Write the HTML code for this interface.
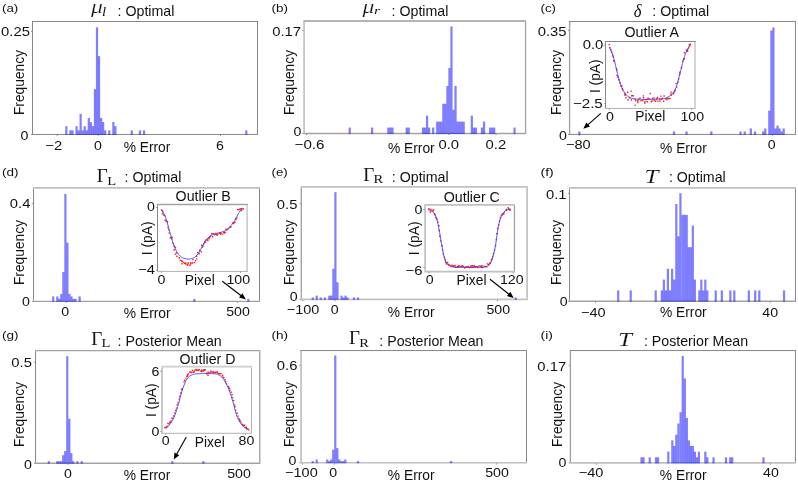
<!DOCTYPE html>
<html><head><meta charset="utf-8"><title>Figure</title>
<style>html,body{margin:0;padding:0;background:#fff;width:798px;height:482px;overflow:hidden}svg{will-change:transform}svg text{font-kerning:normal}</style></head>
<body>
<svg width="798" height="482" viewBox="0 0 798 482" style="display:block;position:absolute;left:0;top:0">
<rect width="798" height="482" fill="#fff"/>
<path d="M32 21.5H258" stroke="#868686" stroke-width="1.0" fill="none"/>
<path d="M32 134.45H258" stroke="#868686" stroke-width="1.0" fill="none"/>
<path d="M32.5 22V133.95" stroke="#868686" stroke-width="1.0" fill="none"/>
<path d="M257.5 22V133.95" stroke="#868686" stroke-width="1.0" fill="none"/>
<g fill="#0000ff" fill-opacity="0.5">
<rect x="65.22" y="126.21" width="2.2" height="8.69"/>
<rect x="69.31" y="130.33" width="2.2" height="4.57"/>
<rect x="71.36" y="130.33" width="2.2" height="4.57"/>
<rect x="75.45" y="126.21" width="2.2" height="8.69"/>
<rect x="77.49" y="130.33" width="2.2" height="4.57"/>
<rect x="79.54" y="113.85" width="2.2" height="21.05"/>
<rect x="81.58" y="130.33" width="2.2" height="4.57"/>
<rect x="83.63" y="126.21" width="2.2" height="8.69"/>
<rect x="85.67" y="130.33" width="2.2" height="4.57"/>
<rect x="87.72" y="117.97" width="2.2" height="16.93"/>
<rect x="89.77" y="122.09" width="2.2" height="12.81"/>
<rect x="91.81" y="126.21" width="2.2" height="8.69"/>
<rect x="93.85" y="89.13" width="2.2" height="45.77"/>
<rect x="95.9" y="27.33" width="2.2" height="107.57"/>
<rect x="97.94" y="56.17" width="2.2" height="78.73"/>
<rect x="99.99" y="117.97" width="2.2" height="16.93"/>
<rect x="102.03" y="122.09" width="2.2" height="12.81"/>
<rect x="104.08" y="130.33" width="2.2" height="4.57"/>
<rect x="108.17" y="130.33" width="2.2" height="4.57"/>
<rect x="112.26" y="122.09" width="2.2" height="12.81"/>
<rect x="114.3" y="126.21" width="2.2" height="8.69"/>
<rect x="130.67" y="130.33" width="2.2" height="4.57"/>
<rect x="138.85" y="130.33" width="2.2" height="4.57"/>
<rect x="142.94" y="130.33" width="2.2" height="4.57"/>
<rect x="245.19" y="130.33" width="2.2" height="4.57"/>
</g>
<path d="M57.3 134.75v1.05M98 134.75v1.05M220.5 134.75v1.05" stroke="#707070" stroke-width="0.9" fill="none"/>
<path d="M32.2 31.4h-1.05M32.2 134.45h-1.05" stroke="#707070" stroke-width="0.9" fill="none"/>
<text transform="translate(53.7 149.7) scale(1.1614 1)" font-family='"Liberation Sans", sans-serif' font-size="12.7" text-anchor="middle" fill="#111">−2</text>
<text transform="translate(98 149.7) scale(1.1169 1)" font-family='"Liberation Sans", sans-serif' font-size="12.7" text-anchor="middle" fill="#111">0</text>
<text transform="translate(220 149.7) scale(1.1169 1)" font-family='"Liberation Sans", sans-serif' font-size="12.7" text-anchor="middle" fill="#111">6</text>
<text transform="translate(29.9 35.9) scale(1.1671 1)" font-family='"Liberation Sans", sans-serif' font-size="12.7" text-anchor="end" fill="#111">0.25</text>
<text transform="translate(28.4 140.3) scale(1.1169 1)" font-family='"Liberation Sans", sans-serif' font-size="12.7" text-anchor="end" fill="#111">0</text>
<text transform="translate(147 151.7)" font-family='"Liberation Sans", sans-serif' font-size="13.8" text-anchor="middle" fill="#111">% Error</text>
<text transform="translate(24.2 82.5) rotate(-90)" font-family='"Liberation Sans", sans-serif' font-size="13.8" text-anchor="middle" fill="#111">Frequency</text>
<text transform="translate(2 12.3) scale(1.1303 1)" font-family='"Liberation Sans", sans-serif' font-size="11.8" text-anchor="start" fill="#111">(a)</text>
<path d="M303.25 21H526.22" stroke="#b4b4b4" stroke-width="1.9" fill="none"/>
<path d="M303.25 133.5H526.22" stroke="#a2a2a2" stroke-width="1.35" fill="none"/>
<path d="M304.1 21.95V132.82" stroke="#c0c0c0" stroke-width="1.7" fill="none"/>
<path d="M525.55 21.95V132.82" stroke="#a2a2a2" stroke-width="1.35" fill="none"/>
<g fill="#0000ff" fill-opacity="0.5">
<rect x="348.62" y="127.55" width="2.2" height="6.4"/>
<rect x="371.01" y="127.55" width="2.2" height="6.4"/>
<rect x="387.29" y="127.55" width="2.2" height="6.4"/>
<rect x="389.32" y="127.55" width="2.2" height="6.4"/>
<rect x="391.36" y="127.55" width="2.2" height="6.4"/>
<rect x="405.61" y="127.55" width="2.2" height="6.4"/>
<rect x="407.64" y="127.55" width="2.2" height="6.4"/>
<rect x="421.88" y="127.55" width="2.2" height="6.4"/>
<rect x="423.92" y="127.55" width="2.2" height="6.4"/>
<rect x="425.95" y="115.65" width="2.2" height="18.3"/>
<rect x="427.99" y="127.55" width="2.2" height="6.4"/>
<rect x="432.06" y="127.55" width="2.2" height="6.4"/>
<rect x="436.13" y="121.6" width="2.2" height="12.35"/>
<rect x="438.17" y="121.6" width="2.2" height="12.35"/>
<rect x="440.2" y="121.6" width="2.2" height="12.35"/>
<rect x="442.24" y="103.75" width="2.2" height="30.2"/>
<rect x="444.27" y="103.75" width="2.2" height="30.2"/>
<rect x="446.31" y="85.9" width="2.2" height="48.05"/>
<rect x="448.34" y="68.05" width="2.2" height="65.9"/>
<rect x="450.38" y="26.4" width="2.2" height="107.55"/>
<rect x="452.41" y="109.7" width="2.2" height="24.25"/>
<rect x="454.44" y="85.9" width="2.2" height="48.05"/>
<rect x="456.48" y="121.6" width="2.2" height="12.35"/>
<rect x="458.52" y="121.6" width="2.2" height="12.35"/>
<rect x="460.55" y="121.6" width="2.2" height="12.35"/>
<rect x="462.58" y="121.6" width="2.2" height="12.35"/>
<rect x="470.73" y="115.65" width="2.2" height="18.3"/>
<rect x="472.76" y="127.55" width="2.2" height="6.4"/>
<rect x="474.8" y="127.55" width="2.2" height="6.4"/>
<rect x="480.9" y="127.55" width="2.2" height="6.4"/>
<rect x="482.94" y="121.6" width="2.2" height="12.35"/>
<rect x="489.04" y="127.55" width="2.2" height="6.4"/>
<rect x="491.07" y="127.55" width="2.2" height="6.4"/>
<rect x="493.11" y="127.55" width="2.2" height="6.4"/>
<rect x="513.46" y="127.55" width="2.2" height="6.4"/>
</g>
<path d="M306.5 133.98v1.05M448.8 133.98v1.05M496 133.98v1.05" stroke="#707070" stroke-width="0.9" fill="none"/>
<path d="M303.45 30.5h-1.05M303.45 133.5h-1.05" stroke="#707070" stroke-width="0.9" fill="none"/>
<text transform="translate(309.5 148.7) scale(1.1940 1)" font-family='"Liberation Sans", sans-serif' font-size="12.7" text-anchor="middle" fill="#111">−0.6</text>
<text transform="translate(448.75 148.7) scale(1.1671 1)" font-family='"Liberation Sans", sans-serif' font-size="12.7" text-anchor="middle" fill="#111">0.0</text>
<text transform="translate(495.9 148.7) scale(1.1671 1)" font-family='"Liberation Sans", sans-serif' font-size="12.7" text-anchor="middle" fill="#111">0.2</text>
<text transform="translate(301 35.8) scale(1.1671 1)" font-family='"Liberation Sans", sans-serif' font-size="12.7" text-anchor="end" fill="#111">0.17</text>
<text transform="translate(301.5 136.3) scale(1.1169 1)" font-family='"Liberation Sans", sans-serif' font-size="12.7" text-anchor="end" fill="#111">0</text>
<text transform="translate(411.3 152.8)" font-family='"Liberation Sans", sans-serif' font-size="13.8" text-anchor="middle" fill="#111">% Error</text>
<text transform="translate(293.6 82.5) rotate(-90)" font-family='"Liberation Sans", sans-serif' font-size="13.8" text-anchor="middle" fill="#111">Frequency</text>
<text transform="translate(271.5 12.3) scale(1.1481 1)" font-family='"Liberation Sans", sans-serif' font-size="11.8" text-anchor="start" fill="#111">(b)</text>
<path d="M568.93 21.5H795.95" stroke="#868686" stroke-width="1.0" fill="none"/>
<path d="M568.93 134.4H795.95" stroke="#868686" stroke-width="1.0" fill="none"/>
<path d="M569.6 22V133.9" stroke="#a2a2a2" stroke-width="1.35" fill="none"/>
<path d="M795.45 22V133.9" stroke="#868686" stroke-width="1.0" fill="none"/>
<g fill="#0000ff" fill-opacity="0.5">
<rect x="578.22" y="131.43" width="2.2" height="3.42"/>
<rect x="672.92" y="131.43" width="2.2" height="3.42"/>
<rect x="685.42" y="131.43" width="2.2" height="3.42"/>
<rect x="710.22" y="131.43" width="2.2" height="3.42"/>
<rect x="739.42" y="131.43" width="2.2" height="3.42"/>
<rect x="743.62" y="131.43" width="2.2" height="3.42"/>
<rect x="749.72" y="128.46" width="2.2" height="6.39"/>
<rect x="753.92" y="131.43" width="2.2" height="3.42"/>
<rect x="762.12" y="131.43" width="2.2" height="3.42"/>
<rect x="764.17" y="128.46" width="2.2" height="6.39"/>
<rect x="768.22" y="110.64" width="2.2" height="24.21"/>
<rect x="770.27" y="30.45" width="2.2" height="104.4"/>
<rect x="772.32" y="27.48" width="2.2" height="107.37"/>
<rect x="774.38" y="128.46" width="2.2" height="6.39"/>
<rect x="776.42" y="125.49" width="2.2" height="9.36"/>
<rect x="778.47" y="128.46" width="2.2" height="6.39"/>
<rect x="780.52" y="131.43" width="2.2" height="3.42"/>
<rect x="782.57" y="128.46" width="2.2" height="6.39"/>
</g>
<path d="M579.3 134.7v1.05M772.5 134.7v1.05" stroke="#707070" stroke-width="0.9" fill="none"/>
<path d="M569.13 30.3h-1.05M569.13 134.4h-1.05" stroke="#707070" stroke-width="0.9" fill="none"/>
<text transform="translate(578.3 148.5) scale(1.1468 1)" font-family='"Liberation Sans", sans-serif' font-size="12.7" text-anchor="middle" fill="#111">−80</text>
<text transform="translate(771.7 148.5) scale(1.1169 1)" font-family='"Liberation Sans", sans-serif' font-size="12.7" text-anchor="middle" fill="#111">0</text>
<text transform="translate(566.5 35.5) scale(1.1671 1)" font-family='"Liberation Sans", sans-serif' font-size="12.7" text-anchor="end" fill="#111">0.35</text>
<text transform="translate(567 139.7) scale(1.1169 1)" font-family='"Liberation Sans", sans-serif' font-size="12.7" text-anchor="end" fill="#111">0</text>
<text transform="translate(683.4 152.5)" font-family='"Liberation Sans", sans-serif' font-size="13.8" text-anchor="middle" fill="#111">% Error</text>
<text transform="translate(560.8 82.5) rotate(-90)" font-family='"Liberation Sans", sans-serif' font-size="13.8" text-anchor="middle" fill="#111">Frequency</text>
<text transform="translate(540.5 11.7) scale(1.1310 1)" font-family='"Liberation Sans", sans-serif' font-size="11.8" text-anchor="start" fill="#111">(c)</text>
<path d="M33.05 187.9H260" stroke="#c0c0c0" stroke-width="1.7" fill="none"/>
<path d="M33.05 301.3H260" stroke="#a2a2a2" stroke-width="1.35" fill="none"/>
<path d="M33.55 188.75V300.62" stroke="#868686" stroke-width="1.0" fill="none"/>
<path d="M259.5 188.75V300.62" stroke="#868686" stroke-width="1.0" fill="none"/>
<g fill="#0000ff" fill-opacity="0.5">
<rect x="52.12" y="296.42" width="2.2" height="5.33"/>
<rect x="56.19" y="296.42" width="2.2" height="5.33"/>
<rect x="58.22" y="298.86" width="2.2" height="2.89"/>
<rect x="60.24" y="293.98" width="2.2" height="7.77"/>
<rect x="62.27" y="272.02" width="2.2" height="29.73"/>
<rect x="64.3" y="193.94" width="2.2" height="107.81"/>
<rect x="66.33" y="242.74" width="2.2" height="59.01"/>
<rect x="68.36" y="293.98" width="2.2" height="7.77"/>
<rect x="70.39" y="296.42" width="2.2" height="5.33"/>
<rect x="72.42" y="298.86" width="2.2" height="2.89"/>
<rect x="74.45" y="298.86" width="2.2" height="2.89"/>
<rect x="78.52" y="296.42" width="2.2" height="5.33"/>
<rect x="193.23" y="298.86" width="2.2" height="2.89"/>
<rect x="247.23" y="298.86" width="2.2" height="2.89"/>
</g>
<path d="M66.2 301.78v1.05M237.5 301.78v1.05" stroke="#707070" stroke-width="0.9" fill="none"/>
<path d="M33.25 203.7h-1.05M33.25 301.3h-1.05" stroke="#707070" stroke-width="0.9" fill="none"/>
<text transform="translate(65.3 316) scale(1.1169 1)" font-family='"Liberation Sans", sans-serif' font-size="12.7" text-anchor="middle" fill="#111">0</text>
<text transform="translate(238 316) scale(1.1169 1)" font-family='"Liberation Sans", sans-serif' font-size="12.7" text-anchor="middle" fill="#111">500</text>
<text transform="translate(30.4 208.3) scale(1.1671 1)" font-family='"Liberation Sans", sans-serif' font-size="12.7" text-anchor="end" fill="#111">0.4</text>
<text transform="translate(29.9 306.3) scale(1.1169 1)" font-family='"Liberation Sans", sans-serif' font-size="12.7" text-anchor="end" fill="#111">0</text>
<text transform="translate(147.2 317.5)" font-family='"Liberation Sans", sans-serif' font-size="13.8" text-anchor="middle" fill="#111">% Error</text>
<text transform="translate(24.2 252.5) rotate(-90)" font-family='"Liberation Sans", sans-serif' font-size="13.8" text-anchor="middle" fill="#111">Frequency</text>
<text transform="translate(2 176.4) scale(1.1481 1)" font-family='"Liberation Sans", sans-serif' font-size="11.8" text-anchor="start" fill="#111">(d)</text>
<path d="M300.62 186.9H527.95" stroke="#c0c0c0" stroke-width="1.7" fill="none"/>
<path d="M300.62 299.45H527.95" stroke="#c0c0c0" stroke-width="1.7" fill="none"/>
<path d="M301.3 187.75V298.6" stroke="#a2a2a2" stroke-width="1.35" fill="none"/>
<path d="M527.1 187.75V298.6" stroke="#c0c0c0" stroke-width="1.7" fill="none"/>
<g fill="#0000ff" fill-opacity="0.5">
<rect x="311.62" y="297.53" width="2.2" height="2.37"/>
<rect x="315.62" y="295.62" width="2.2" height="4.28"/>
<rect x="319.62" y="297.53" width="2.2" height="2.37"/>
<rect x="323.73" y="297.53" width="2.2" height="2.37"/>
<rect x="328.23" y="295.62" width="2.2" height="4.28"/>
<rect x="330.23" y="295.62" width="2.2" height="4.28"/>
<rect x="332.28" y="268.79" width="2.2" height="31.11"/>
<rect x="334.32" y="192.15" width="2.2" height="107.75"/>
<rect x="336.38" y="282.21" width="2.2" height="17.69"/>
<rect x="340.43" y="295.62" width="2.2" height="4.28"/>
<rect x="342.43" y="297.53" width="2.2" height="2.37"/>
<rect x="344.43" y="295.62" width="2.2" height="4.28"/>
<rect x="346.43" y="297.53" width="2.2" height="2.37"/>
<rect x="352.93" y="297.53" width="2.2" height="2.37"/>
<rect x="356.93" y="297.53" width="2.2" height="2.37"/>
<rect x="514.62" y="297.53" width="2.2" height="2.37"/>
</g>
<path d="M302.7 300.1v1.05M335 300.1v1.05M497.5 300.1v1.05" stroke="#707070" stroke-width="0.9" fill="none"/>
<path d="M300.82 203.7h-1.05M300.82 299.45h-1.05" stroke="#707070" stroke-width="0.9" fill="none"/>
<text transform="translate(303.1 314.3) scale(1.1394 1)" font-family='"Liberation Sans", sans-serif' font-size="12.7" text-anchor="middle" fill="#111">−100</text>
<text transform="translate(334.8 314.3) scale(1.1169 1)" font-family='"Liberation Sans", sans-serif' font-size="12.7" text-anchor="middle" fill="#111">0</text>
<text transform="translate(498.3 314.3) scale(1.1169 1)" font-family='"Liberation Sans", sans-serif' font-size="12.7" text-anchor="middle" fill="#111">500</text>
<text transform="translate(297.4 208.7) scale(1.1671 1)" font-family='"Liberation Sans", sans-serif' font-size="12.7" text-anchor="end" fill="#111">0.5</text>
<text transform="translate(297.7 301.3) scale(1.1169 1)" font-family='"Liberation Sans", sans-serif' font-size="12.7" text-anchor="end" fill="#111">0</text>
<text transform="translate(411.2 317)" font-family='"Liberation Sans", sans-serif' font-size="13.8" text-anchor="middle" fill="#111">% Error</text>
<text transform="translate(293.6 252.5) rotate(-90)" font-family='"Liberation Sans", sans-serif' font-size="13.8" text-anchor="middle" fill="#111">Frequency</text>
<text transform="translate(271.5 176.4) scale(1.1319 1)" font-family='"Liberation Sans", sans-serif' font-size="11.8" text-anchor="start" fill="#111">(e)</text>
<path d="M569.05 187.9H795.95" stroke="#c0c0c0" stroke-width="1.7" fill="none"/>
<path d="M569.05 301.2H795.95" stroke="#a2a2a2" stroke-width="1.35" fill="none"/>
<path d="M569.55 188.75V300.52" stroke="#868686" stroke-width="1.0" fill="none"/>
<path d="M795.45 188.75V300.52" stroke="#868686" stroke-width="1.0" fill="none"/>
<g fill="#0000ff" fill-opacity="0.5">
<rect x="617.12" y="290.4" width="2.2" height="11.25"/>
<rect x="629.62" y="290.4" width="2.2" height="11.25"/>
<rect x="654.62" y="290.4" width="2.2" height="11.25"/>
<rect x="660.72" y="290.4" width="2.2" height="11.25"/>
<rect x="662.77" y="279.6" width="2.2" height="22.05"/>
<rect x="664.82" y="290.4" width="2.2" height="11.25"/>
<rect x="666.82" y="268.8" width="2.2" height="32.85"/>
<rect x="668.88" y="290.4" width="2.2" height="11.25"/>
<rect x="671.02" y="268.8" width="2.2" height="32.85"/>
<rect x="673.12" y="279.6" width="2.2" height="22.05"/>
<rect x="675.22" y="204" width="2.2" height="97.65"/>
<rect x="677.27" y="236.4" width="2.2" height="65.25"/>
<rect x="679.32" y="193.2" width="2.2" height="108.45"/>
<rect x="681.52" y="214.8" width="2.2" height="86.85"/>
<rect x="683.57" y="214.8" width="2.2" height="86.85"/>
<rect x="685.62" y="214.8" width="2.2" height="86.85"/>
<rect x="687.62" y="247.2" width="2.2" height="54.45"/>
<rect x="689.67" y="247.2" width="2.2" height="54.45"/>
<rect x="691.72" y="225.6" width="2.2" height="76.05"/>
<rect x="693.77" y="279.6" width="2.2" height="22.05"/>
<rect x="698.22" y="290.4" width="2.2" height="11.25"/>
<rect x="700.22" y="279.6" width="2.2" height="22.05"/>
<rect x="702.22" y="290.4" width="2.2" height="11.25"/>
<rect x="704.22" y="279.6" width="2.2" height="22.05"/>
<rect x="706.22" y="290.4" width="2.2" height="11.25"/>
<rect x="714.62" y="290.4" width="2.2" height="11.25"/>
<rect x="720.72" y="290.4" width="2.2" height="11.25"/>
<rect x="729.22" y="290.4" width="2.2" height="11.25"/>
<rect x="733.22" y="290.4" width="2.2" height="11.25"/>
<rect x="747.72" y="290.4" width="2.2" height="11.25"/>
<rect x="754.12" y="290.4" width="2.2" height="11.25"/>
<rect x="758.22" y="290.4" width="2.2" height="11.25"/>
<rect x="782.92" y="290.4" width="2.2" height="11.25"/>
</g>
<path d="M595.5 301.68v1.05M770.3 301.68v1.05" stroke="#707070" stroke-width="0.9" fill="none"/>
<path d="M569.25 193.3h-1.05M569.25 301.2h-1.05" stroke="#707070" stroke-width="0.9" fill="none"/>
<text transform="translate(593.3 316.5) scale(1.1468 1)" font-family='"Liberation Sans", sans-serif' font-size="12.7" text-anchor="middle" fill="#111">−40</text>
<text transform="translate(770.2 316.5) scale(1.1169 1)" font-family='"Liberation Sans", sans-serif' font-size="12.7" text-anchor="middle" fill="#111">40</text>
<text transform="translate(566.5 198.7) scale(1.1671 1)" font-family='"Liberation Sans", sans-serif' font-size="12.7" text-anchor="end" fill="#111">0.1</text>
<text transform="translate(567.7 305.8) scale(1.1169 1)" font-family='"Liberation Sans", sans-serif' font-size="12.7" text-anchor="end" fill="#111">0</text>
<text transform="translate(683.3 317)" font-family='"Liberation Sans", sans-serif' font-size="13.8" text-anchor="middle" fill="#111">% Error</text>
<text transform="translate(560.8 252.5) rotate(-90)" font-family='"Liberation Sans", sans-serif' font-size="13.8" text-anchor="middle" fill="#111">Frequency</text>
<text transform="translate(540.5 176.4) scale(1.1890 1)" font-family='"Liberation Sans", sans-serif' font-size="11.8" text-anchor="start" fill="#111">(f)</text>
<path d="M35.05 350.6H260.43" stroke="#a2a2a2" stroke-width="1.35" fill="none"/>
<path d="M35.05 463.25H260.43" stroke="#a2a2a2" stroke-width="1.35" fill="none"/>
<path d="M35.55 351.28V462.57" stroke="#868686" stroke-width="1.0" fill="none"/>
<path d="M259.75 351.28V462.57" stroke="#a2a2a2" stroke-width="1.35" fill="none"/>
<g fill="#0000ff" fill-opacity="0.5">
<rect x="47.72" y="461.23" width="2.2" height="2.47"/>
<rect x="56.12" y="461.23" width="2.2" height="2.47"/>
<rect x="58.12" y="461.23" width="2.2" height="2.47"/>
<rect x="60.12" y="461.23" width="2.2" height="2.47"/>
<rect x="62.12" y="455.17" width="2.2" height="8.53"/>
<rect x="64.12" y="451.13" width="2.2" height="12.57"/>
<rect x="66.17" y="356.19" width="2.2" height="107.51"/>
<rect x="68.22" y="418.81" width="2.2" height="44.89"/>
<rect x="70.22" y="453.15" width="2.2" height="10.55"/>
<rect x="72.22" y="461.23" width="2.2" height="2.47"/>
<rect x="76.22" y="461.23" width="2.2" height="2.47"/>
<rect x="80.62" y="461.23" width="2.2" height="2.47"/>
<rect x="171.23" y="461.23" width="2.2" height="2.47"/>
<rect x="202.23" y="461.23" width="2.2" height="2.47"/>
</g>
<path d="M68 463.73v1.05M238 463.73v1.05" stroke="#707070" stroke-width="0.9" fill="none"/>
<path d="M35.25 362.3h-1.05M35.25 463.25h-1.05" stroke="#707070" stroke-width="0.9" fill="none"/>
<text transform="translate(68 477.8) scale(1.1169 1)" font-family='"Liberation Sans", sans-serif' font-size="12.7" text-anchor="middle" fill="#111">0</text>
<text transform="translate(239 477.8) scale(1.1169 1)" font-family='"Liberation Sans", sans-serif' font-size="12.7" text-anchor="middle" fill="#111">500</text>
<text transform="translate(31.9 367.3) scale(1.1671 1)" font-family='"Liberation Sans", sans-serif' font-size="12.7" text-anchor="end" fill="#111">0.5</text>
<text transform="translate(32 469) scale(1.1169 1)" font-family='"Liberation Sans", sans-serif' font-size="12.7" text-anchor="end" fill="#111">0</text>
<text transform="translate(147 480)" font-family='"Liberation Sans", sans-serif' font-size="13.8" text-anchor="middle" fill="#111">% Error</text>
<text transform="translate(24.2 414.5) rotate(-90)" font-family='"Liberation Sans", sans-serif' font-size="13.8" text-anchor="middle" fill="#111">Frequency</text>
<text transform="translate(2 339.2) scale(1.1481 1)" font-family='"Liberation Sans", sans-serif' font-size="11.8" text-anchor="start" fill="#111">(g)</text>
<path d="M300.2 350.55H527" stroke="#868686" stroke-width="1.0" fill="none"/>
<path d="M300.2 462.75H527" stroke="#c0c0c0" stroke-width="1.7" fill="none"/>
<path d="M301.05 351.05V461.9" stroke="#c0c0c0" stroke-width="1.7" fill="none"/>
<path d="M526.5 351.05V461.9" stroke="#868686" stroke-width="1.0" fill="none"/>
<g fill="#0000ff" fill-opacity="0.5">
<rect x="311.62" y="461.12" width="2.2" height="2.08"/>
<rect x="315.62" y="459.5" width="2.2" height="3.7"/>
<rect x="326.12" y="459.5" width="2.2" height="3.7"/>
<rect x="328.12" y="461.12" width="2.2" height="2.08"/>
<rect x="330.12" y="459.5" width="2.2" height="3.7"/>
<rect x="332.12" y="449.75" width="2.2" height="13.45"/>
<rect x="334.18" y="355.5" width="2.2" height="107.7"/>
<rect x="336.23" y="448.12" width="2.2" height="15.07"/>
<rect x="338.23" y="459.5" width="2.2" height="3.7"/>
<rect x="340.23" y="461.12" width="2.2" height="2.08"/>
<rect x="342.23" y="461.12" width="2.2" height="2.08"/>
<rect x="344.23" y="459.5" width="2.2" height="3.7"/>
<rect x="356.93" y="461.12" width="2.2" height="2.08"/>
<rect x="449.93" y="461.12" width="2.2" height="2.08"/>
</g>
<path d="M302.5 463.4v1.05M334.7 463.4v1.05M496.7 463.4v1.05" stroke="#707070" stroke-width="0.9" fill="none"/>
<path d="M300.4 365.3h-1.05M300.4 462.75h-1.05" stroke="#707070" stroke-width="0.9" fill="none"/>
<text transform="translate(301.4 477.3) scale(1.1394 1)" font-family='"Liberation Sans", sans-serif' font-size="12.7" text-anchor="middle" fill="#111">−100</text>
<text transform="translate(333.2 477.3) scale(1.1169 1)" font-family='"Liberation Sans", sans-serif' font-size="12.7" text-anchor="middle" fill="#111">0</text>
<text transform="translate(497 477.3) scale(1.1169 1)" font-family='"Liberation Sans", sans-serif' font-size="12.7" text-anchor="middle" fill="#111">500</text>
<text transform="translate(297.4 370.3) scale(1.1671 1)" font-family='"Liberation Sans", sans-serif' font-size="12.7" text-anchor="end" fill="#111">0.6</text>
<text transform="translate(296.5 465.3) scale(1.1169 1)" font-family='"Liberation Sans", sans-serif' font-size="12.7" text-anchor="end" fill="#111">0</text>
<text transform="translate(411.2 479.5)" font-family='"Liberation Sans", sans-serif' font-size="13.8" text-anchor="middle" fill="#111">% Error</text>
<text transform="translate(293.6 414.5) rotate(-90)" font-family='"Liberation Sans", sans-serif' font-size="13.8" text-anchor="middle" fill="#111">Frequency</text>
<text transform="translate(271.5 339.2) scale(1.1473 1)" font-family='"Liberation Sans", sans-serif' font-size="11.8" text-anchor="start" fill="#111">(h)</text>
<path d="M569.73 350.55H795.95" stroke="#868686" stroke-width="1.0" fill="none"/>
<path d="M569.73 462.9H795.95" stroke="#c0c0c0" stroke-width="1.7" fill="none"/>
<path d="M570.4 351.05V462.05" stroke="#a2a2a2" stroke-width="1.35" fill="none"/>
<path d="M795.45 351.05V462.05" stroke="#868686" stroke-width="1.0" fill="none"/>
<g fill="#0000ff" fill-opacity="0.5">
<rect x="640.42" y="457.27" width="2.2" height="6.08"/>
<rect x="642.42" y="457.27" width="2.2" height="6.08"/>
<rect x="648.62" y="457.27" width="2.2" height="6.08"/>
<rect x="654.92" y="457.27" width="2.2" height="6.08"/>
<rect x="656.92" y="457.27" width="2.2" height="6.08"/>
<rect x="667.22" y="451.64" width="2.2" height="11.71"/>
<rect x="671.22" y="440.38" width="2.2" height="22.97"/>
<rect x="673.22" y="446.01" width="2.2" height="17.34"/>
<rect x="675.22" y="434.75" width="2.2" height="28.6"/>
<rect x="677.32" y="423.49" width="2.2" height="39.86"/>
<rect x="679.52" y="412.23" width="2.2" height="51.12"/>
<rect x="681.62" y="355.93" width="2.2" height="107.42"/>
<rect x="683.72" y="378.45" width="2.2" height="84.9"/>
<rect x="685.77" y="417.86" width="2.2" height="45.49"/>
<rect x="687.82" y="440.38" width="2.2" height="22.97"/>
<rect x="689.82" y="446.01" width="2.2" height="17.34"/>
<rect x="691.82" y="446.01" width="2.2" height="17.34"/>
<rect x="693.82" y="451.64" width="2.2" height="11.71"/>
<rect x="695.82" y="457.27" width="2.2" height="6.08"/>
<rect x="697.82" y="451.64" width="2.2" height="11.71"/>
<rect x="704.22" y="451.64" width="2.2" height="11.71"/>
<rect x="706.22" y="457.27" width="2.2" height="6.08"/>
<rect x="712.42" y="457.27" width="2.2" height="6.08"/>
<rect x="724.92" y="457.27" width="2.2" height="6.08"/>
<rect x="729.12" y="457.27" width="2.2" height="6.08"/>
<rect x="731.12" y="457.27" width="2.2" height="6.08"/>
<rect x="762.42" y="457.27" width="2.2" height="6.08"/>
</g>
<path d="M596.3 463.55v1.05M770.3 463.55v1.05" stroke="#707070" stroke-width="0.9" fill="none"/>
<path d="M569.93 365.3h-1.05M569.93 462.9h-1.05" stroke="#707070" stroke-width="0.9" fill="none"/>
<text transform="translate(591.1 477.3) scale(1.1468 1)" font-family='"Liberation Sans", sans-serif' font-size="12.7" text-anchor="middle" fill="#111">−40</text>
<text transform="translate(771 477.3) scale(1.1169 1)" font-family='"Liberation Sans", sans-serif' font-size="12.7" text-anchor="middle" fill="#111">40</text>
<text transform="translate(566.2 370.7) scale(1.1671 1)" font-family='"Liberation Sans", sans-serif' font-size="12.7" text-anchor="end" fill="#111">0.17</text>
<text transform="translate(566.5 466.7) scale(1.1169 1)" font-family='"Liberation Sans", sans-serif' font-size="12.7" text-anchor="end" fill="#111">0</text>
<text transform="translate(683.2 480)" font-family='"Liberation Sans", sans-serif' font-size="13.8" text-anchor="middle" fill="#111">% Error</text>
<text transform="translate(561.8 414.5) rotate(-90)" font-family='"Liberation Sans", sans-serif' font-size="13.8" text-anchor="middle" fill="#111">Frequency</text>
<text transform="translate(540.5 339.2) scale(1.1813 1)" font-family='"Liberation Sans", sans-serif' font-size="11.8" text-anchor="start" fill="#111">(i)</text>
<text transform="translate(91 13.4) scale(1.3 1)" font-family='"Liberation Serif", serif' font-size="18.2" font-style="italic" stroke="#fff" stroke-width="0.22" text-anchor="start" fill="#111">μ</text>
<text transform="translate(101.9 16) scale(1.3 1)" font-family='"Liberation Serif", serif' font-size="11.5" font-style="italic" text-anchor="start" fill="#111">l</text>
<text transform="translate(117.6 16) scale(1.015 1)" font-family='"Liberation Sans", sans-serif' font-size="14.0" text-anchor="start" fill="#111">: Optimal</text>
<text transform="translate(362.6 13.4) scale(1.3 1)" font-family='"Liberation Serif", serif' font-size="18.2" font-style="italic" stroke="#fff" stroke-width="0.22" text-anchor="start" fill="#111">μ</text>
<text transform="translate(374 14) scale(1.6 1)" font-family='"Liberation Serif", serif' font-size="10.0" font-style="italic" text-anchor="start" fill="#111">r</text>
<text transform="translate(391.6 16) scale(1.015 1)" font-family='"Liberation Sans", sans-serif' font-size="14.0" text-anchor="start" fill="#111">: Optimal</text>
<text transform="translate(633.7 16.8) scale(0.9 1)" font-family='"Liberation Serif", serif' font-size="18.5" font-style="italic" text-anchor="start" fill="#111">δ</text>
<text transform="translate(652.3 16) scale(1.015 1)" font-family='"Liberation Sans", sans-serif' font-size="14.0" text-anchor="start" fill="#111">: Optimal</text>
<text transform="translate(96.7 182) scale(1.06 1)" font-family='"Liberation Serif", serif' font-size="18.0" text-anchor="start" fill="#111">Γ</text>
<text transform="translate(107.2 184.7) scale(1.1 1)" font-family='"Liberation Serif", serif' font-size="13.2" text-anchor="start" fill="#111">L</text>
<text transform="translate(124.6 182.1) scale(1.015 1)" font-family='"Liberation Sans", sans-serif' font-size="14.0" text-anchor="start" fill="#111">: Optimal</text>
<text transform="translate(363.3 180.5) scale(1.06 1)" font-family='"Liberation Serif", serif' font-size="18.0" text-anchor="start" fill="#111">Γ</text>
<text transform="translate(373.6 183.3) scale(1.1 1)" font-family='"Liberation Serif", serif' font-size="13.2" text-anchor="start" fill="#111">R</text>
<text transform="translate(391.8 181.5) scale(1.015 1)" font-family='"Liberation Sans", sans-serif' font-size="14.0" text-anchor="start" fill="#111">: Optimal</text>
<text transform="translate(644.6 183.2) scale(1.27 1)" font-family='"Liberation Serif", serif' font-size="19.8" font-style="italic" stroke="#fff" stroke-width="0.15" text-anchor="start" fill="#111">T</text>
<text transform="translate(668.9 182.1) scale(1.015 1)" font-family='"Liberation Sans", sans-serif' font-size="14.0" text-anchor="start" fill="#111">: Optimal</text>
<text transform="translate(91.3 344.5) scale(1.06 1)" font-family='"Liberation Serif", serif' font-size="18.0" text-anchor="start" fill="#111">Γ</text>
<text transform="translate(101.6 347.3) scale(1.1 1)" font-family='"Liberation Serif", serif' font-size="13.2" text-anchor="start" fill="#111">L</text>
<text transform="translate(117.6 345.9) scale(1.015 1)" font-family='"Liberation Sans", sans-serif' font-size="14.0" text-anchor="start" fill="#111">: Posterior Mean</text>
<text transform="translate(348.9 344.3) scale(1.06 1)" font-family='"Liberation Serif", serif' font-size="18.0" text-anchor="start" fill="#111">Γ</text>
<text transform="translate(359.2 347) scale(1.1 1)" font-family='"Liberation Serif", serif' font-size="13.2" text-anchor="start" fill="#111">R</text>
<text transform="translate(379.3 345.9) scale(1.015 1)" font-family='"Liberation Sans", sans-serif' font-size="14.0" text-anchor="start" fill="#111">: Posterior Mean</text>
<text transform="translate(618.1 346.3) scale(1.27 1)" font-family='"Liberation Serif", serif' font-size="19.8" font-style="italic" stroke="#fff" stroke-width="0.15" text-anchor="start" fill="#111">T</text>
<text transform="translate(643.9 345.9) scale(1.015 1)" font-family='"Liberation Sans", sans-serif' font-size="14.0" text-anchor="start" fill="#111">: Posterior Mean</text>
<rect x="605.55" y="41.5" width="89.45" height="66.95" fill="#fff"/>
<path d="M605.05 41.5H695.85" stroke="#868686" stroke-width="1.0" fill="none"/>
<path d="M605.05 108.45H695.85" stroke="#adadad" stroke-width="0.95" fill="none"/>
<path d="M605.55 42V107.98" stroke="#868686" stroke-width="1.0" fill="none"/>
<path d="M695 42V107.98" stroke="#cecece" stroke-width="1.7" fill="none"/>
<path d="M609.5 108.72v1.0M691.5 108.72v1.0" stroke="#707070" stroke-width="0.9" fill="none"/>
<path d="M605.25 45.3h-1.0M605.25 103.5h-1.0" stroke="#707070" stroke-width="0.9" fill="none"/>
<text transform="translate(651.8 37) scale(1.015 1)" font-family='"Liberation Sans", sans-serif' font-size="14.0" text-anchor="middle" fill="#111">Outlier A</text>
<text transform="translate(603.3 49) scale(1.1671 1)" font-family='"Liberation Sans", sans-serif' font-size="12.7" text-anchor="end" fill="#111">0.0</text>
<text transform="translate(602.8 107.6) scale(1.1940 1)" font-family='"Liberation Sans", sans-serif' font-size="12.7" text-anchor="end" fill="#111">−2.5</text>
<text transform="translate(609.9 120.9) scale(1.1169 1)" font-family='"Liberation Sans", sans-serif' font-size="12.7" text-anchor="middle" fill="#111">0</text>
<text transform="translate(692.3 120.9) scale(1.1169 1)" font-family='"Liberation Sans", sans-serif' font-size="12.7" text-anchor="middle" fill="#111">100</text>
<text transform="translate(650.3 121.3)" font-family='"Liberation Sans", sans-serif' font-size="13.8" text-anchor="middle" fill="#111">Pixel</text>
<text transform="translate(600.1 76.2) rotate(-90)" font-family='"Liberation Sans", sans-serif' font-size="13.8" text-anchor="middle" fill="#111">I (pA)</text>
<path d="M608.43 43.95h1.4v1.4h-1.4zM609.28 47.1h1.4v1.4h-1.4zM610.16 49.23h1.4v1.4h-1.4zM610.99 51.49h1.4v1.4h-1.4zM611.98 54.26h1.4v1.4h-1.4zM612.35 55.91h1.4v1.4h-1.4zM612.87 59.98h1.4v1.4h-1.4zM613.63 60.7h1.4v1.4h-1.4zM615.77 68h1.4v1.4h-1.4zM616.08 69.37h1.4v1.4h-1.4zM616.26 74.84h1.4v1.4h-1.4zM616.95 76.44h1.4v1.4h-1.4zM617.96 79.04h1.4v1.4h-1.4zM619.16 82.05h1.4v1.4h-1.4zM619.96 85.16h1.4v1.4h-1.4zM621.06 85.34h1.4v1.4h-1.4zM621.69 87.95h1.4v1.4h-1.4zM622.2 89.13h1.4v1.4h-1.4zM624.03 94.17h1.4v1.4h-1.4zM624.45 92.76h1.4v1.4h-1.4zM624.73 94.25h1.4v1.4h-1.4zM625.21 97.05h1.4v1.4h-1.4zM627.01 91.62h1.4v1.4h-1.4zM627.3 99.26h1.4v1.4h-1.4zM628.92 96.85h1.4v1.4h-1.4zM628.7 97.17h1.4v1.4h-1.4zM630.5 90.47h1.4v1.4h-1.4zM630.61 99.32h1.4v1.4h-1.4zM630.98 95.11h1.4v1.4h-1.4zM632.08 95.09h1.4v1.4h-1.4zM632.65 95.15h1.4v1.4h-1.4zM634.41 104.38h1.4v1.4h-1.4zM634.34 98.67h1.4v1.4h-1.4zM635.08 99.92h1.4v1.4h-1.4zM636.94 100.26h1.4v1.4h-1.4zM637.27 101.85h1.4v1.4h-1.4zM637.74 98.77h1.4v1.4h-1.4zM639.2 97.61h1.4v1.4h-1.4zM639.28 97.45h1.4v1.4h-1.4zM640.32 99.93h1.4v1.4h-1.4zM642.13 99.84h1.4v1.4h-1.4zM642.83 97.05h1.4v1.4h-1.4zM642.71 95.14h1.4v1.4h-1.4zM644.14 102.33h1.4v1.4h-1.4zM644.21 100.99h1.4v1.4h-1.4zM645.25 99.08h1.4v1.4h-1.4zM646.8 98.16h1.4v1.4h-1.4zM646.64 101.11h1.4v1.4h-1.4zM647.49 97.5h1.4v1.4h-1.4zM649.03 98.21h1.4v1.4h-1.4zM649.53 92.87h1.4v1.4h-1.4zM650.51 101.05h1.4v1.4h-1.4zM651.47 100.22h1.4v1.4h-1.4zM651.7 97.86h1.4v1.4h-1.4zM653.58 99.87h1.4v1.4h-1.4zM653.4 97.23h1.4v1.4h-1.4zM654.99 100.59h1.4v1.4h-1.4zM656.11 98.31h1.4v1.4h-1.4zM656.84 96.73h1.4v1.4h-1.4zM656.58 97.2h1.4v1.4h-1.4zM657.31 100.65h1.4v1.4h-1.4zM659.07 98.28h1.4v1.4h-1.4zM659.26 100.23h1.4v1.4h-1.4zM660.14 95.46h1.4v1.4h-1.4zM660.8 98.34h1.4v1.4h-1.4zM661.7 97.49h1.4v1.4h-1.4zM662.98 100.52h1.4v1.4h-1.4zM663.42 95.34h1.4v1.4h-1.4zM665.13 98.11h1.4v1.4h-1.4zM665.05 98.12h1.4v1.4h-1.4zM666.12 98.79h1.4v1.4h-1.4zM666.84 97.47h1.4v1.4h-1.4zM667.95 98.07h1.4v1.4h-1.4zM669.22 97.71h1.4v1.4h-1.4zM670.17 93.17h1.4v1.4h-1.4zM670.44 91.42h1.4v1.4h-1.4zM670.64 94.46h1.4v1.4h-1.4zM672.54 93.19h1.4v1.4h-1.4zM673.07 92.29h1.4v1.4h-1.4zM673.81 90.76h1.4v1.4h-1.4zM674.41 89.31h1.4v1.4h-1.4zM675.96 86.39h1.4v1.4h-1.4zM675.49 82.95h1.4v1.4h-1.4zM677.47 81.43h1.4v1.4h-1.4zM678.07 78.22h1.4v1.4h-1.4zM679.14 73.49h1.4v1.4h-1.4zM679.18 71.59h1.4v1.4h-1.4zM680.73 67.04h1.4v1.4h-1.4zM680.92 66.94h1.4v1.4h-1.4zM681.96 60.43h1.4v1.4h-1.4zM682.86 58.49h1.4v1.4h-1.4zM683.66 58.08h1.4v1.4h-1.4zM683.74 51.99h1.4v1.4h-1.4zM685.69 49.52h1.4v1.4h-1.4zM686.3 49.21h1.4v1.4h-1.4zM686.92 50.49h1.4v1.4h-1.4zM687.54 47.87h1.4v1.4h-1.4zM688.8 45.8h1.4v1.4h-1.4zM688.62 43.99h1.4v1.4h-1.4zM689.72 43.52h1.4v1.4h-1.4z" fill="#ff1e1e"/>
<polyline points="609.2,47 610.12,48.67 611.03,50.66 611.95,52.93 612.87,55.44 613.78,58.25 614.7,61.74 615.62,65.67 616.53,69.73 617.45,73.59 618.37,76.93 619.29,79.97 620.2,82.94 621.12,85.71 622.04,88.17 622.95,90.18 623.87,91.72 624.79,93.09 625.7,94.3 626.62,95.33 627.54,96.17 628.45,96.79 629.37,97.31 630.29,97.77 631.2,98.16 632.12,98.47 633.04,98.66 633.96,98.77 634.87,98.87 635.79,98.97 636.71,99.05 637.62,99.13 638.54,99.2 639.46,99.26 640.37,99.32 641.29,99.37 642.21,99.41 643.12,99.44 644.04,99.47 644.96,99.49 645.87,99.5 646.79,99.5 647.71,99.5 648.62,99.49 649.54,99.48 650.46,99.46 651.38,99.44 652.29,99.41 653.21,99.38 654.13,99.34 655.04,99.3 655.96,99.25 656.88,99.2 657.79,99.15 658.71,99.08 659.63,99.02 660.54,98.95 661.46,98.87 662.38,98.79 663.29,98.7 664.21,98.56 665.13,98.31 666.04,97.97 666.96,97.56 667.88,97.08 668.8,96.55 669.71,95.98 670.63,95.36 671.55,94.57 672.46,93.62 673.38,92.48 674.3,91.15 675.21,89.6 676.13,87.35 677.05,84.39 677.96,81 678.88,77.46 679.8,74.02 680.71,70.66 681.63,67.01 682.55,63.28 683.47,59.75 684.38,56.68 685.3,54.28 686.22,52.15 687.13,50.17 688.05,48.38 688.97,46.84 689.88,45.59 690.8,44.7" fill="none" stroke="#4040ff" stroke-width="0.9" stroke-linejoin="round"/>
<path d="M600.8 113.3L587.79 124.82" stroke="#000" stroke-width="1.1" fill="none"/>
<path d="M583.3 128.8L586.34 122.43L589.99 126.55z" fill="#000"/>
<rect x="157.5" y="204.5" width="89.6" height="66.9" fill="#fff"/>
<path d="M157 204.5H247.95" stroke="#a2a2a2" stroke-width="1.35" fill="none"/>
<path d="M157 271.4H247.95" stroke="#adadad" stroke-width="0.95" fill="none"/>
<path d="M157.5 205.18V270.92" stroke="#868686" stroke-width="1.0" fill="none"/>
<path d="M247.1 205.18V270.92" stroke="#cecece" stroke-width="1.7" fill="none"/>
<path d="M161.3 271.68v1.0M240.5 271.68v1.0" stroke="#707070" stroke-width="0.9" fill="none"/>
<path d="M157.2 207.5h-1.0M157.2 270h-1.0" stroke="#707070" stroke-width="0.9" fill="none"/>
<text transform="translate(203.2 201.3) scale(1.015 1)" font-family='"Liberation Sans", sans-serif' font-size="14.0" text-anchor="middle" fill="#111">Outlier B</text>
<text transform="translate(155 210.7) scale(1.1169 1)" font-family='"Liberation Sans", sans-serif' font-size="12.7" text-anchor="end" fill="#111">0</text>
<text transform="translate(155 274.3) scale(1.1614 1)" font-family='"Liberation Sans", sans-serif' font-size="12.7" text-anchor="end" fill="#111">−4</text>
<text transform="translate(161.5 283.7) scale(1.1169 1)" font-family='"Liberation Sans", sans-serif' font-size="12.7" text-anchor="middle" fill="#111">0</text>
<text transform="translate(238.3 283.7) scale(1.1169 1)" font-family='"Liberation Sans", sans-serif' font-size="12.7" text-anchor="middle" fill="#111">100</text>
<text transform="translate(199.8 284.7)" font-family='"Liberation Sans", sans-serif' font-size="13.8" text-anchor="middle" fill="#111">Pixel</text>
<text transform="translate(152.4 238.3) rotate(-90)" font-family='"Liberation Sans", sans-serif' font-size="13.8" text-anchor="middle" fill="#111">I (pA)</text>
<path d="M161.05 209.55h1.4v1.4h-1.4zM161.92 210.58h1.4v1.4h-1.4zM161.77 212.83h1.4v1.4h-1.4zM162.79 214.29h1.4v1.4h-1.4zM164.27 215.22h1.4v1.4h-1.4zM164.41 219.53h1.4v1.4h-1.4zM165.57 220.51h1.4v1.4h-1.4zM166.79 220.98h1.4v1.4h-1.4zM167.35 226.8h1.4v1.4h-1.4zM168.07 229.18h1.4v1.4h-1.4zM168.45 232.4h1.4v1.4h-1.4zM169.71 237.12h1.4v1.4h-1.4zM171.1 237.98h1.4v1.4h-1.4zM171.33 236.51h1.4v1.4h-1.4zM172.37 242.64h1.4v1.4h-1.4zM173.61 245.5h1.4v1.4h-1.4zM173.4 249.36h1.4v1.4h-1.4zM174.77 246.75h1.4v1.4h-1.4zM174.78 253.67h1.4v1.4h-1.4zM175.68 252.25h1.4v1.4h-1.4zM176.28 255.56h1.4v1.4h-1.4zM178.51 257.26h1.4v1.4h-1.4zM178.67 256.95h1.4v1.4h-1.4zM179.74 259.56h1.4v1.4h-1.4zM180.97 260.23h1.4v1.4h-1.4zM181.26 263.1h1.4v1.4h-1.4zM181.63 260.69h1.4v1.4h-1.4zM182.68 261.69h1.4v1.4h-1.4zM183.88 262.54h1.4v1.4h-1.4zM185.23 263.42h1.4v1.4h-1.4zM185.03 262.28h1.4v1.4h-1.4zM186.77 264.56h1.4v1.4h-1.4zM187.63 262.27h1.4v1.4h-1.4zM187.09 263.64h1.4v1.4h-1.4zM189.19 264.48h1.4v1.4h-1.4zM189.14 264.96h1.4v1.4h-1.4zM189.93 262.11h1.4v1.4h-1.4zM190.29 263.07h1.4v1.4h-1.4zM191.92 262.37h1.4v1.4h-1.4zM192.21 258.91h1.4v1.4h-1.4zM193.82 261.97h1.4v1.4h-1.4zM194.86 260.05h1.4v1.4h-1.4zM195.83 255.49h1.4v1.4h-1.4zM195.98 258.14h1.4v1.4h-1.4zM196.85 251.97h1.4v1.4h-1.4zM198.03 252.46h1.4v1.4h-1.4zM198.42 253.12h1.4v1.4h-1.4zM199.05 249.52h1.4v1.4h-1.4zM200.57 251.02h1.4v1.4h-1.4zM201.65 246.45h1.4v1.4h-1.4zM200.99 244.62h1.4v1.4h-1.4zM202.33 245.31h1.4v1.4h-1.4zM203.02 242.89h1.4v1.4h-1.4zM203.96 240.76h1.4v1.4h-1.4zM204.51 241.57h1.4v1.4h-1.4zM205.43 239.29h1.4v1.4h-1.4zM206.37 238.52h1.4v1.4h-1.4zM207.16 239.96h1.4v1.4h-1.4zM208.1 238.01h1.4v1.4h-1.4zM208.84 237.05h1.4v1.4h-1.4zM209.83 235.53h1.4v1.4h-1.4zM211.24 232.81h1.4v1.4h-1.4zM211.11 233.34h1.4v1.4h-1.4zM211.93 236h1.4v1.4h-1.4zM212.96 233.11h1.4v1.4h-1.4zM214.44 233.95h1.4v1.4h-1.4zM215.23 232.8h1.4v1.4h-1.4zM215.47 233.57h1.4v1.4h-1.4zM216.34 234.67h1.4v1.4h-1.4zM217.03 233.64h1.4v1.4h-1.4zM218.73 232.58h1.4v1.4h-1.4zM219.09 232.32h1.4v1.4h-1.4zM220.04 233.63h1.4v1.4h-1.4zM220.18 232.49h1.4v1.4h-1.4zM221.89 233.43h1.4v1.4h-1.4zM222.98 231.62h1.4v1.4h-1.4zM223.63 231.39h1.4v1.4h-1.4zM223.61 232.24h1.4v1.4h-1.4zM224.68 231.8h1.4v1.4h-1.4zM225.11 228.47h1.4v1.4h-1.4zM226.38 229h1.4v1.4h-1.4zM227.71 228.21h1.4v1.4h-1.4zM228.64 226.94h1.4v1.4h-1.4zM229.41 226.71h1.4v1.4h-1.4zM229.84 226.42h1.4v1.4h-1.4zM230.24 225.93h1.4v1.4h-1.4zM231.88 222.38h1.4v1.4h-1.4zM232.68 222.83h1.4v1.4h-1.4zM233.69 222.11h1.4v1.4h-1.4zM234.4 221.44h1.4v1.4h-1.4zM235.09 217.85h1.4v1.4h-1.4zM235.23 218.75h1.4v1.4h-1.4zM236.02 217.21h1.4v1.4h-1.4zM236.93 208.94h1.4v1.4h-1.4zM238.09 209.15h1.4v1.4h-1.4zM238.97 208.61h1.4v1.4h-1.4zM240.16 207.9h1.4v1.4h-1.4zM240.87 208.13h1.4v1.4h-1.4zM240.8 209.86h1.4v1.4h-1.4zM242.57 208.31h1.4v1.4h-1.4z" fill="#ff1e1e"/>
<polyline points="161.2,209.4 162.12,210.53 163.04,212 163.95,213.75 164.87,215.72 165.79,217.94 166.71,220.76 167.63,223.99 168.54,227.38 169.46,230.69 170.38,233.87 171.3,237.21 172.22,240.53 173.13,243.56 174.05,246.09 174.97,248.16 175.89,250.05 176.81,251.73 177.72,253.17 178.64,254.35 179.56,255.37 180.48,256.29 181.4,257.08 182.31,257.69 183.23,258.08 184.15,258.38 185.07,258.65 185.99,258.87 186.9,259.02 187.82,259.1 188.74,259.08 189.66,258.98 190.58,258.8 191.49,258.57 192.41,258.3 193.33,257.99 194.25,257.54 195.17,256.87 196.08,256.03 197,255.07 197.92,254.04 198.84,252.74 199.76,251.17 200.67,249.47 201.59,247.78 202.51,246.2 203.43,244.55 204.34,242.89 205.26,241.33 206.18,239.99 207.1,238.92 208.02,237.97 208.93,237.11 209.85,236.36 210.77,235.74 211.69,235.22 212.61,234.77 213.52,234.38 214.44,234.03 215.36,233.71 216.28,233.44 217.2,233.21 218.11,233 219.03,232.8 219.95,232.58 220.87,232.33 221.79,232.04 222.7,231.72 223.62,231.37 224.54,230.98 225.46,230.53 226.38,230.01 227.29,229.38 228.21,228.58 229.13,227.66 230.05,226.64 230.97,225.56 231.88,224.45 232.8,223.21 233.72,221.86 234.64,220.41 235.56,218.93 236.47,217.39 237.39,215.67 238.31,213.92 239.23,212.31 240.15,210.99 241.06,209.82 241.98,208.78 242.9,207.9" fill="none" stroke="#4040ff" stroke-width="0.9" stroke-linejoin="round"/>
<path d="M222.3 281.2L241.15 295.74" stroke="#000" stroke-width="1.1" fill="none"/>
<path d="M245.9 299.4L239.07 297.61L242.43 293.25z" fill="#000"/>
<rect x="425.1" y="204.9" width="89.35" height="66.7" fill="#fff"/>
<path d="M424.25 204.9H515.12" stroke="#c0c0c0" stroke-width="1.7" fill="none"/>
<path d="M424.25 271.6H515.12" stroke="#c0c0c0" stroke-width="1.7" fill="none"/>
<path d="M425.1 205.75V270.75" stroke="#c0c0c0" stroke-width="1.7" fill="none"/>
<path d="M514.45 205.75V270.75" stroke="#a2a2a2" stroke-width="1.35" fill="none"/>
<path d="M429 272.25v1.0M513.2 272.25v1.0" stroke="#707070" stroke-width="0.9" fill="none"/>
<path d="M424.45 209.5h-1.0M424.45 267.5h-1.0" stroke="#707070" stroke-width="0.9" fill="none"/>
<text transform="translate(471.8 201.5) scale(1.015 1)" font-family='"Liberation Sans", sans-serif' font-size="14.0" text-anchor="middle" fill="#111">Outlier C</text>
<text transform="translate(422.4 214) scale(1.1169 1)" font-family='"Liberation Sans", sans-serif' font-size="12.7" text-anchor="end" fill="#111">0</text>
<text transform="translate(422.4 274.7) scale(1.1614 1)" font-family='"Liberation Sans", sans-serif' font-size="12.7" text-anchor="end" fill="#111">−6</text>
<text transform="translate(429.8 284.4) scale(1.1169 1)" font-family='"Liberation Sans", sans-serif' font-size="12.7" text-anchor="middle" fill="#111">0</text>
<text transform="translate(511.7 284.4) scale(1.1169 1)" font-family='"Liberation Sans", sans-serif' font-size="12.7" text-anchor="middle" fill="#111">120</text>
<text transform="translate(471.5 285)" font-family='"Liberation Sans", sans-serif' font-size="13.8" text-anchor="middle" fill="#111">Pixel</text>
<text transform="translate(418.8 238.3) rotate(-90)" font-family='"Liberation Sans", sans-serif' font-size="13.8" text-anchor="middle" fill="#111">I (pA)</text>
<path d="M427.97 208.36h1.4v1.4h-1.4zM428.5 208.3h1.4v1.4h-1.4zM429.7 211.54h1.4v1.4h-1.4zM430.07 208.75h1.4v1.4h-1.4zM431.36 209.63h1.4v1.4h-1.4zM432.5 210.15h1.4v1.4h-1.4zM432.89 209.29h1.4v1.4h-1.4zM433.82 213.32h1.4v1.4h-1.4zM434.31 214.06h1.4v1.4h-1.4zM434.89 216.74h1.4v1.4h-1.4zM436.27 218.55h1.4v1.4h-1.4zM437.34 221.41h1.4v1.4h-1.4zM438.24 225.09h1.4v1.4h-1.4zM438.26 229.78h1.4v1.4h-1.4zM439.02 235.53h1.4v1.4h-1.4zM440.01 240.2h1.4v1.4h-1.4zM441.52 245.08h1.4v1.4h-1.4zM441.77 249.07h1.4v1.4h-1.4zM442.52 253.33h1.4v1.4h-1.4zM443.62 256.54h1.4v1.4h-1.4zM444.23 258.74h1.4v1.4h-1.4zM444.86 261.3h1.4v1.4h-1.4zM445.61 263.12h1.4v1.4h-1.4zM446.96 261.76h1.4v1.4h-1.4zM447.35 263.64h1.4v1.4h-1.4zM448.37 264.32h1.4v1.4h-1.4zM448.94 264.44h1.4v1.4h-1.4zM449.9 265.4h1.4v1.4h-1.4zM451.19 264.5h1.4v1.4h-1.4zM451.72 265.67h1.4v1.4h-1.4zM452.73 265.66h1.4v1.4h-1.4zM453.08 265h1.4v1.4h-1.4zM454.32 264.74h1.4v1.4h-1.4zM454.78 266.51h1.4v1.4h-1.4zM456.37 266.58h1.4v1.4h-1.4zM456.76 265.82h1.4v1.4h-1.4zM457.46 266.61h1.4v1.4h-1.4zM458.13 265.1h1.4v1.4h-1.4zM459.29 265.68h1.4v1.4h-1.4zM459.71 265.72h1.4v1.4h-1.4zM461.05 265.76h1.4v1.4h-1.4zM461.7 265.1h1.4v1.4h-1.4zM462.61 265.79h1.4v1.4h-1.4zM463.89 267.32h1.4v1.4h-1.4zM464.24 266.6h1.4v1.4h-1.4zM465.38 265.99h1.4v1.4h-1.4zM465.73 266.25h1.4v1.4h-1.4zM466.95 266.17h1.4v1.4h-1.4zM467.68 265.68h1.4v1.4h-1.4zM468.65 266.85h1.4v1.4h-1.4zM469.68 266.25h1.4v1.4h-1.4zM470.35 265.23h1.4v1.4h-1.4zM471.29 266.66h1.4v1.4h-1.4zM471.78 265h1.4v1.4h-1.4zM472.53 266.43h1.4v1.4h-1.4zM473.57 265.04h1.4v1.4h-1.4zM473.9 266.28h1.4v1.4h-1.4zM475.08 266.1h1.4v1.4h-1.4zM475.9 265.92h1.4v1.4h-1.4zM477.1 266.19h1.4v1.4h-1.4zM477.05 266.81h1.4v1.4h-1.4zM478.38 265.17h1.4v1.4h-1.4zM479.62 265.64h1.4v1.4h-1.4zM480.39 265.57h1.4v1.4h-1.4zM480.69 266.72h1.4v1.4h-1.4zM481.25 264.93h1.4v1.4h-1.4zM481.97 266.75h1.4v1.4h-1.4zM483.55 265.66h1.4v1.4h-1.4zM483.81 265.9h1.4v1.4h-1.4zM485.21 265.63h1.4v1.4h-1.4zM485.98 266.14h1.4v1.4h-1.4zM486.82 263.18h1.4v1.4h-1.4zM487.73 264.2h1.4v1.4h-1.4zM488.58 263.52h1.4v1.4h-1.4zM489.16 262.33h1.4v1.4h-1.4zM489.7 262.34h1.4v1.4h-1.4zM490.54 259.84h1.4v1.4h-1.4zM491.22 258.33h1.4v1.4h-1.4zM491.93 255.66h1.4v1.4h-1.4zM492.77 252.74h1.4v1.4h-1.4zM493.92 249.43h1.4v1.4h-1.4zM494.87 245.18h1.4v1.4h-1.4zM495.61 238.87h1.4v1.4h-1.4zM496 232.88h1.4v1.4h-1.4zM496.88 227.87h1.4v1.4h-1.4zM497.88 224.3h1.4v1.4h-1.4zM498.77 220.21h1.4v1.4h-1.4zM499.73 217.49h1.4v1.4h-1.4zM500.49 215.19h1.4v1.4h-1.4zM501.16 214.56h1.4v1.4h-1.4zM501.81 213.24h1.4v1.4h-1.4zM502.94 213.57h1.4v1.4h-1.4zM503.53 211.89h1.4v1.4h-1.4zM505.2 209.6h1.4v1.4h-1.4zM505.4 209.5h1.4v1.4h-1.4zM506.13 208.77h1.4v1.4h-1.4zM507.52 206.97h1.4v1.4h-1.4zM507.93 208.29h1.4v1.4h-1.4zM509.25 209.51h1.4v1.4h-1.4zM509.39 208.85h1.4v1.4h-1.4z" fill="#ff1e1e"/>
<polyline points="428.6,210.5 429.52,210.58 430.44,210.81 431.36,211.15 432.28,211.6 433.2,212.13 434.11,213.13 435.03,214.67 435.95,216.59 436.87,219.34 437.79,223.2 438.71,227.58 439.63,232.44 440.55,238.15 441.47,243.81 442.39,248.73 443.31,253.29 444.22,256.92 445.14,259.79 446.06,261.99 446.98,263.41 447.9,264.52 448.82,265.35 449.74,265.92 450.66,266.42 451.58,266.81 452.5,267.05 453.42,267.13 454.33,267.19 455.25,267.24 456.17,267.29 457.09,267.33 458.01,267.36 458.93,267.39 459.85,267.42 460.77,267.44 461.69,267.46 462.61,267.48 463.53,267.49 464.44,267.49 465.36,267.5 466.28,267.5 467.2,267.5 468.12,267.5 469.04,267.49 469.96,267.49 470.88,267.48 471.8,267.47 472.72,267.46 473.64,267.44 474.56,267.42 475.47,267.4 476.39,267.38 477.31,267.36 478.23,267.33 479.15,267.3 480.07,267.27 480.99,267.23 481.91,267.19 482.83,267.15 483.75,267.11 484.67,267.02 485.58,266.8 486.5,266.48 487.42,266.07 488.34,265.58 489.26,264.74 490.18,263.43 491.1,261.79 492.02,259.62 492.94,256.66 493.86,253.22 494.78,249.02 495.69,244.17 496.61,237.98 497.53,231.58 498.45,226.47 499.37,222.03 500.29,218.83 501.21,216.33 502.13,214.33 503.05,212.94 503.97,211.96 504.89,211.16 505.8,210.54 506.72,210.09 507.64,209.73 508.56,209.42 509.48,209.19 510.4,209.1" fill="none" stroke="#4040ff" stroke-width="0.9" stroke-linejoin="round"/>
<path d="M490 279.2L509 294.27" stroke="#000" stroke-width="1.1" fill="none"/>
<path d="M513.7 298L506.9 296.11L510.32 291.81z" fill="#000"/>
<rect x="162" y="366.7" width="89.45" height="66.6" fill="#fff"/>
<path d="M161.15 366.7H251.92" stroke="#cecece" stroke-width="1.7" fill="none"/>
<path d="M161.15 433.3H251.92" stroke="#adadad" stroke-width="0.95" fill="none"/>
<path d="M162 367.55V432.82" stroke="#c0c0c0" stroke-width="1.7" fill="none"/>
<path d="M251.45 367.55V432.82" stroke="#adadad" stroke-width="0.95" fill="none"/>
<path d="M165.8 433.58v1.0M245.4 433.58v1.0" stroke="#707070" stroke-width="0.9" fill="none"/>
<path d="M161.35 371.3h-1.0M161.35 431.7h-1.0" stroke="#707070" stroke-width="0.9" fill="none"/>
<text transform="translate(207.5 364.2) scale(1.015 1)" font-family='"Liberation Sans", sans-serif' font-size="14.0" text-anchor="middle" fill="#111">Outlier D</text>
<text transform="translate(159.4 375.8) scale(1.1169 1)" font-family='"Liberation Sans", sans-serif' font-size="12.7" text-anchor="end" fill="#111">6</text>
<text transform="translate(159.4 436.2) scale(1.1169 1)" font-family='"Liberation Sans", sans-serif' font-size="12.7" text-anchor="end" fill="#111">0</text>
<text transform="translate(165.6 445.2) scale(1.1169 1)" font-family='"Liberation Sans", sans-serif' font-size="12.7" text-anchor="middle" fill="#111">0</text>
<text transform="translate(246.5 445.2) scale(1.1169 1)" font-family='"Liberation Sans", sans-serif' font-size="12.7" text-anchor="middle" fill="#111">80</text>
<text transform="translate(209.8 447)" font-family='"Liberation Sans", sans-serif' font-size="13.8" text-anchor="middle" fill="#111">Pixel</text>
<text transform="translate(156.3 400.2) rotate(-90)" font-family='"Liberation Sans", sans-serif' font-size="13.8" text-anchor="middle" fill="#111">I (pA)</text>
<path d="M164.13 426.85h1.4v1.4h-1.4zM164.77 426.93h1.4v1.4h-1.4zM165.63 426.69h1.4v1.4h-1.4zM166.28 425.52h1.4v1.4h-1.4zM167.23 422.66h1.4v1.4h-1.4zM168.48 423.24h1.4v1.4h-1.4zM169.05 421.51h1.4v1.4h-1.4zM169.84 421.58h1.4v1.4h-1.4zM170.46 420.18h1.4v1.4h-1.4zM171.32 417.54h1.4v1.4h-1.4zM172.11 417.8h1.4v1.4h-1.4zM172.96 415.36h1.4v1.4h-1.4zM174.2 412.37h1.4v1.4h-1.4zM174.84 409.67h1.4v1.4h-1.4zM175.74 407.41h1.4v1.4h-1.4zM176.39 404.17h1.4v1.4h-1.4zM177.2 402.2h1.4v1.4h-1.4zM178.48 398.39h1.4v1.4h-1.4zM179 395.86h1.4v1.4h-1.4zM180.07 392.26h1.4v1.4h-1.4zM180.83 388.84h1.4v1.4h-1.4zM181.63 387.9h1.4v1.4h-1.4zM183.36 381.14h1.4v1.4h-1.4zM184.03 379.5h1.4v1.4h-1.4zM185.26 377.45h1.4v1.4h-1.4zM186.11 375.49h1.4v1.4h-1.4zM186.96 375.44h1.4v1.4h-1.4zM187.05 374.1h1.4v1.4h-1.4zM187.62 373.14h1.4v1.4h-1.4zM189.08 371.26h1.4v1.4h-1.4zM190.45 371.59h1.4v1.4h-1.4zM190.22 371.92h1.4v1.4h-1.4zM191.32 371.71h1.4v1.4h-1.4zM191.8 369.87h1.4v1.4h-1.4zM193.08 371.6h1.4v1.4h-1.4zM193.53 370.67h1.4v1.4h-1.4zM194.42 369.26h1.4v1.4h-1.4zM195.78 368.97h1.4v1.4h-1.4zM196.21 369.72h1.4v1.4h-1.4zM196.69 369.55h1.4v1.4h-1.4zM197.84 369.59h1.4v1.4h-1.4zM198.57 368.94h1.4v1.4h-1.4zM200.17 370.26h1.4v1.4h-1.4zM201.14 369.34h1.4v1.4h-1.4zM201.13 370.76h1.4v1.4h-1.4zM202.67 370.24h1.4v1.4h-1.4zM203.18 368.95h1.4v1.4h-1.4zM203.63 369.56h1.4v1.4h-1.4zM204.47 368.99h1.4v1.4h-1.4zM206.07 373.18h1.4v1.4h-1.4zM205.85 372.57h1.4v1.4h-1.4zM207.38 374.52h1.4v1.4h-1.4zM207.5 371.52h1.4v1.4h-1.4zM209.33 371.74h1.4v1.4h-1.4zM209.16 372.47h1.4v1.4h-1.4zM210.22 370.58h1.4v1.4h-1.4zM211.35 371.68h1.4v1.4h-1.4zM212.38 370.92h1.4v1.4h-1.4zM213.04 372.08h1.4v1.4h-1.4zM213.68 371.85h1.4v1.4h-1.4zM214.18 372.21h1.4v1.4h-1.4zM215.12 371.51h1.4v1.4h-1.4zM216.38 371.21h1.4v1.4h-1.4zM216.88 372.09h1.4v1.4h-1.4zM217.91 372.89h1.4v1.4h-1.4zM219.24 372.89h1.4v1.4h-1.4zM220.09 373.02h1.4v1.4h-1.4zM220.25 373h1.4v1.4h-1.4zM221.77 375.09h1.4v1.4h-1.4zM221.98 374.86h1.4v1.4h-1.4zM222.53 376.63h1.4v1.4h-1.4zM223.1 377.07h1.4v1.4h-1.4zM224.29 379.12h1.4v1.4h-1.4zM224.9 381.02h1.4v1.4h-1.4zM225.79 383.14h1.4v1.4h-1.4zM227.81 386.01h1.4v1.4h-1.4zM228.72 387.57h1.4v1.4h-1.4zM229.25 389.6h1.4v1.4h-1.4zM230.71 391.6h1.4v1.4h-1.4zM231.35 394h1.4v1.4h-1.4zM231.88 396.93h1.4v1.4h-1.4zM232.97 399.92h1.4v1.4h-1.4zM233.92 404.14h1.4v1.4h-1.4zM234.19 406.07h1.4v1.4h-1.4zM234.93 409.8h1.4v1.4h-1.4zM236.43 412.6h1.4v1.4h-1.4zM237.31 415.38h1.4v1.4h-1.4zM238.15 417.67h1.4v1.4h-1.4zM238.93 419.05h1.4v1.4h-1.4zM239.27 419.94h1.4v1.4h-1.4zM239.99 421.61h1.4v1.4h-1.4zM241.34 423.42h1.4v1.4h-1.4zM242.05 424h1.4v1.4h-1.4zM242.71 425.09h1.4v1.4h-1.4zM243.89 424.6h1.4v1.4h-1.4zM244.55 426.65h1.4v1.4h-1.4zM245.53 426.62h1.4v1.4h-1.4zM246.02 427.87h1.4v1.4h-1.4zM247.12 428.32h1.4v1.4h-1.4zM247.97 429.19h1.4v1.4h-1.4z" fill="#ff1e1e"/>
<polyline points="165.8,428.7 166.72,427.86 167.64,426.9 168.55,425.84 169.47,424.69 170.39,423.47 171.31,422.17 172.23,420.73 173.14,419.1 174.06,417.22 174.98,414.94 175.9,412.33 176.82,409.49 177.73,406.54 178.65,403.37 179.57,399.84 180.49,396.26 181.41,392.98 182.32,390.02 183.24,387.29 184.16,384.89 185.08,382.63 186,380.65 186.91,379.14 187.83,377.97 188.75,376.96 189.67,376.17 190.59,375.6 191.5,375.15 192.42,374.74 193.34,374.4 194.26,374.13 195.18,373.95 196.09,373.87 197.01,373.82 197.93,373.76 198.85,373.71 199.77,373.67 200.68,373.63 201.6,373.6 202.52,373.57 203.44,373.55 204.36,373.53 205.27,373.51 206.19,373.51 207.11,373.5 208.03,373.5 208.94,373.51 209.86,373.53 210.78,373.56 211.7,373.6 212.62,373.64 213.53,373.7 214.45,373.77 215.37,373.84 216.29,373.94 217.21,374.18 218.12,374.57 219.04,375.05 219.96,375.59 220.88,376.32 221.8,377.22 222.71,378.24 223.63,379.38 224.55,380.74 225.47,382.29 226.39,383.99 227.3,385.83 228.22,387.89 229.14,390.16 230.06,392.61 230.98,395.3 231.89,398.32 232.81,401.49 233.73,404.66 234.65,407.99 235.57,411.53 236.48,414.82 237.4,417.41 238.32,419.34 239.24,421.03 240.16,422.49 241.07,423.74 241.99,424.83 242.91,425.85 243.83,426.8 244.75,427.67 245.66,428.42 246.58,429.04 247.5,429.5" fill="none" stroke="#4040ff" stroke-width="0.9" stroke-linejoin="round"/>
<path d="M186.3 437L176.63 454.26" stroke="#000" stroke-width="1.1" fill="none"/>
<path d="M173.7 459.5L174.48 452.49L179.28 455.17z" fill="#000"/>
</svg>
</body></html>
